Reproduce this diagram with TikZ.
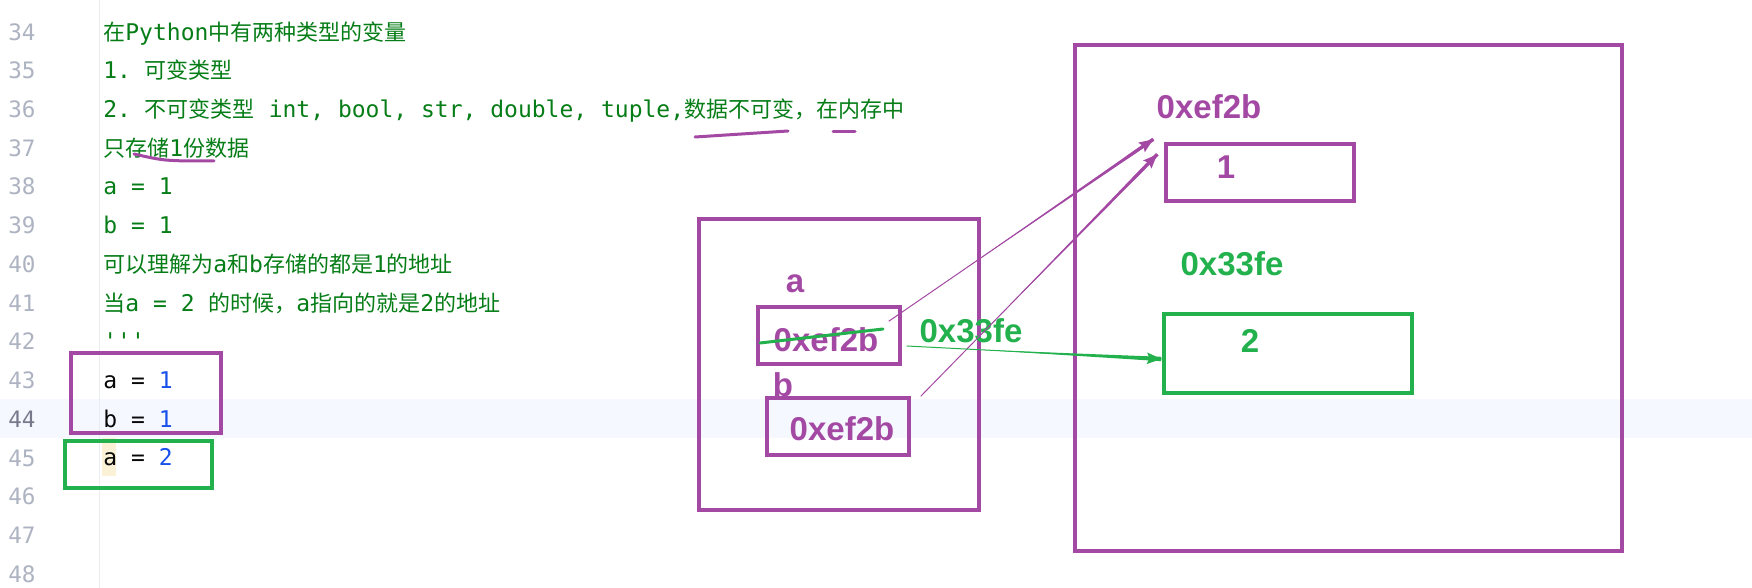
\documentclass[tikz,border=0pt]{standalone}
\usepackage{fontspec}
\setmonofont{DejaVu Sans Mono}
\newfontfamily\cjkfont{Noto Sans CJK SC}
\newfontfamily\labfont{Liberation Sans}
\usetikzlibrary{fit,calc,arrows.meta}
\definecolor{pp}{HTML}{A349A4}
\definecolor{pg}{HTML}{22B14C}
\definecolor{cg}{HTML}{067D17}
\definecolor{lnum}{HTML}{AEB3C2}
\definecolor{lnumcur}{HTML}{767A8A}
\definecolor{kblue}{HTML}{1750EB}
\definecolor{kblack}{HTML}{080808}
\definecolor{curline}{HTML}{F5F8FE}
\definecolor{idhl}{HTML}{FBF1D6}
\definecolor{gutterline}{HTML}{EBECF0}
\newcommand\zhc[1]{{\cjkfont\fontsize{11pt}{13pt}\selectfont #1}}
\newcommand\taperline[4]{%
  \fill[#1] ($(#2)!0.3!(#3)$) -- ($(#3)!#4!90:(#2)$) -- ($(#3)!#4!-90:(#2)$) -- cycle;
  \draw[#1, line width=0.5pt] (#2) -- (#3);
  \draw[#1, line width=1.4pt, -{Stealth[length=7pt,width=5.5pt,inset=1pt]}] ($(#2)!0.9!(#3)$) -- (#3);
}
\begin{document}
\begin{tikzpicture}[x=0.5pt,y=-0.5pt,
  codeline/.style={anchor=base west, inner sep=0, font=\fontsize{11.5pt}{13pt}\selectfont\ttfamily, text=cg},
  lnstyle/.style={anchor=base east, inner sep=0, font=\fontsize{11.3pt}{13pt}\selectfont\ttfamily, text=lnum},
  pbox/.style={draw=pp, line width=1.7pt, inner sep=0, fill=none},
  gbox/.style={draw=pg, line width=1.7pt, inner sep=0, fill=none},
  plab/.style={inner sep=0, anchor=base, font=\fontsize{16.5pt}{18pt}\selectfont\labfont\bfseries, text=pp},
  glab/.style={inner sep=0, anchor=base, font=\fontsize{16.5pt}{18pt}\selectfont\labfont\bfseries, text=pg},
  pen/.style={line width=1.5pt, line cap=round}]
\useasboundingbox (0,0) rectangle (1752,588);
\fill[white] (0,0) rectangle (1752,588);
% current line highlight
\fill[curline] (0,399) rectangle (1752,438);
% gutter separator
\draw[gutterline, line width=0.5pt] (99,0) -- (99,588);
% identifier highlight
\fill[idhl] (102,438) rectangle (116,476);
% line numbers
\foreach \n [count=\i from 0] in {34,...,48}{
  \ifnum\n=44
    \node[lnstyle, text=lnumcur] (ln\n) at (36,{40.1+\i*38.72}) {\n};
  \else
    \node[lnstyle] (ln\n) at (36,{40.1+\i*38.72}) {\n};
  \fi
}
% code lines
\node[codeline] (c34) at (103,40.1) {\zhc{在}Python\zhc{中有两种类型的变量}};
\node[codeline] (c35) at (103,78.8) {1. \zhc{可变类型}};
\node[codeline] (c36) at (103,117.5) {2. \zhc{不可变类型} int, bool, str, double, tuple,\zhc{数据不可变，在内存中}};
\node[codeline] (c37) at (103,156.3) {\zhc{只存储}1\zhc{份数据}};
\node[codeline] (c38) at (103,195.0) {a = 1};
\node[codeline] (c39) at (103,233.7) {b = 1};
\node[codeline] (c40) at (103,272.4) {\zhc{可以理解为}a\zhc{和}b\zhc{存储的都是}1\zhc{的地址}};
\node[codeline] (c41) at (103,311.1) {\zhc{当}a = 2 \zhc{的时候，}a\zhc{指向的就是}2\zhc{的地址}};
\node[codeline] (c42) at (103,349.9) {\symbol{"27}\symbol{"27}\symbol{"27}};
\node[codeline, text=kblack] (c43) at (103,388.6) {a = {\color{kblue}1}};
\node[codeline, text=kblack] (c44) at (103,427.3) {b = {\color{kblue}1}};
\node[codeline, text=kblack] (c45) at (103,466.0) {a = {\color{kblue}2}};
% boxes around code
\node[pbox, fit={(71,353) (221,433)}] (codeab) {};
\node[gbox, fit={(65,441) (212,488)}] (codea2) {};
% pen underlines
\draw[pp, pen] (134,154) .. controls (165,161) .. (214,161);
\draw[pp, pen] (695,137) -- (788,131);
\draw[pp, pen] (833,132) -- (855,132);
% stack
\node[pbox, fit={(699,219) (979,510)}] (stack) {};
\node[pbox, fit={(758,307) (900,364)}] (boxa) {};
\node[pbox, fit={(767,398) (909,455)}] (boxb) {};
\node[plab] (la) at (795,293) {a};
\node[plab] (lb) at (783,397) {b};
\node[plab] (va) at (826,352) {0xef2b};
\node[plab] (vb) at (842,440) {0xef2b};
\draw[pg, pen] (760,343) -- (883,329);
% heap
\node[pbox, fit={(1075,45) (1622,551)}] (heap) {};
\node[pbox, fit={(1166,144) (1354,201)}] (box1) {};
\node[gbox, fit={(1164,314) (1412,393)}] (box2) {};
\node[plab] (addr1) at (1209,119) {0xef2b};
\node[plab] (v1) at (1226,179) {1};
\node[glab] (addr2) at (1232,276) {0x33fe};
\node[glab] (v2) at (1250,353) {2};
\node[glab] (newaddr) at (971,343) {0x33fe};
% connectors
\coordinate (a1s) at ($(boxa.north east)+(-13,16)$);
\coordinate (a1t) at ($(box1.north west)+(-11,-3)$);
\coordinate (a2s) at ($(boxb.north east)+(10,0)$);
\coordinate (a2t) at ($(box1.north west)+(-7,12)$);
\coordinate (a3s) at ($(boxa.east)+(5,10.5)$);
\coordinate (a3t) at ($(box2.west)+(-1,5.5)$);
\taperline{pp}{a1s}{a1t}{0.9pt}
\taperline{pp}{a2s}{a2t}{0.9pt}
\taperline{pg}{a3s}{a3t}{1.1pt}
\end{tikzpicture}
\end{document}
